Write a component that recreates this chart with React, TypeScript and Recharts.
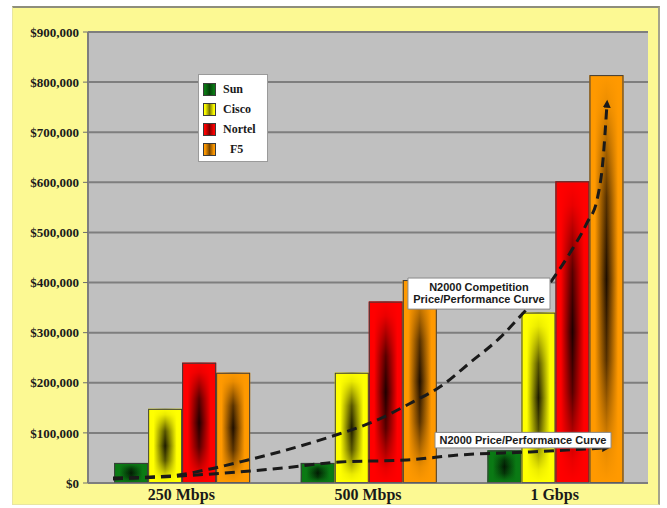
import React from 'react';
import {
  ComposedChart,
  Bar,
  Line,
  XAxis,
  YAxis,
  CartesianGrid,
  ReferenceArea,
} from 'recharts';

// Throughput tiers and vendor prices (USD)
const categories = ['250 Mbps', '500 Mbps', '1 Gbps'];
const sunPrices = [40000, 40000, 65000];
const ciscoPrices = [148000, 220000, 340000];
const nortelPrices = [240000, 362000, 602000];
const f5Prices = [220000, 405000, 814000];

const yTicks = [0, 100000, 200000, 300000, 400000, 500000, 600000, 700000, 800000, 900000];

// Price/performance trend curves, x measured in category widths (0..3)
const competitionX = [0.134, 0.44, 0.654, 0.857, 1.045, 1.296, 1.527, 1.741, 1.886, 2.046, 2.207, 2.314, 2.486, 2.582, 2.673, 2.727, 2.759, 2.78];
const competitionV = [10000, 14000, 28000, 46000, 64000, 92000, 122000, 162000, 192000, 240000, 290000, 332000, 405000, 459000, 519000, 565000, 645000, 755000];
const n2000X = [0.134, 0.493, 0.868, 1.045, 1.35, 1.709, 1.993, 2.368, 2.77];
const n2000V = [8000, 14000, 24000, 30000, 42000, 46000, 56000, 62000, 70000];

const series = [
  { key: 'sun', name: 'Sun', color: '#0a7a14', dark: '#021a03' },
  { key: 'cisco', name: 'Cisco', color: '#ffff00', dark: '#1c1a00' },
  { key: 'nortel', name: 'Nortel', color: '#ff0000', dark: '#1e0000' },
  { key: 'f5', name: 'F5', color: '#ff9900', dark: '#1e0e00' },
];

const rows = categories.map((category, i) => ({
  category,
  sun: sunPrices[i],
  cisco: ciscoPrices[i],
  nortel: nortelPrices[i],
  f5: f5Prices[i],
}));

const competitionCurve = competitionX.map((x, i) => ({ x, v: competitionV[i] }));
const n2000Curve = n2000X.map((x, i) => ({ x, v: n2000V[i] }));

const money = (v: number) => '$' + v.toLocaleString('en-US');

function GradientBar(props: any) {
  const { x, y, width, height, tone } = props;
  if (!height || height <= 0) return null;
  return (
    <g>
      <rect x={x} y={y} width={width} height={height} fill={`url(#h-${tone})`} />
      <rect x={x} y={y} width={width} height={height} fill={`url(#v-${tone})`} />
      <rect
        x={x + 0.5}
        y={y + 0.5}
        width={Math.max(width - 1, 0)}
        height={Math.max(height - 1, 0)}
        fill="none"
        stroke="#3c3c3c"
        strokeWidth={1}
      />
    </g>
  );
}

function Callout(props: any) {
  const { viewBox, lines } = props;
  if (!viewBox) return null;
  const cx = viewBox.x + viewBox.width / 2;
  const lineH = 12;
  const top = viewBox.y + viewBox.height / 2 - (lines.length * lineH) / 2;
  return (
    <text
      x={cx}
      textAnchor="middle"
      fontFamily="'Liberation Sans', Arial, sans-serif"
      fontWeight="bold"
      fontSize={11}
      fill="#1a1a1a"
    >
      {lines.map((l: string, i: number) => (
        <tspan key={i} x={cx} y={top + lineH * i + 9.5}>
          {l}
        </tspan>
      ))}
    </text>
  );
}

function LegendBox() {
  return (
    <div
      style={{
        position: 'absolute',
        left: 198,
        top: 74,
        width: 70,
        height: 88,
        background: '#ffffff',
        border: '1px solid #9a9a9a',
        boxSizing: 'border-box',
        padding: '4px 0 0 4px',
        fontFamily: "'Liberation Serif', 'Times New Roman', serif",
        fontWeight: 'bold',
        fontSize: 12,
        color: '#1a1a1a',
      }}
    >
      {series.map((s) => (
        <div key={s.key} style={{ display: 'flex', alignItems: 'center', height: 20 }}>
          <svg width={13} height={13} style={{ display: 'block' }}>
            <rect x={0} y={0} width={13} height={13} fill={s.color} />
            <rect x={0} y={0} width={13} height={13} fill={`url(#h-${s.key})`} opacity={0.6} />
            <rect x={0.5} y={0.5} width={12} height={12} fill="none" stroke="#3c3c3c" />
          </svg>
          <span style={{ marginLeft: 7, paddingLeft: s.key === 'f5' ? 7 : 0 }}>{s.name}</span>
        </div>
      ))}
    </div>
  );
}

export default function App() {
  return (
    <div
      style={{
        position: 'absolute',
        left: 0,
        top: 0,
        width: 667,
        height: 508,
        background: '#ffffff',
        overflow: 'hidden',
      }}
    >
      <div
        style={{
          position: 'absolute',
          left: 12,
          top: 6,
          width: 648,
          height: 499,
          background: '#fcf993',
          borderTop: '2px solid #8e8e7c',
          borderRight: '2px solid #a4a48c',
          borderLeft: '1px solid #e8e6a0',
          borderBottom: '1px solid #e8e6a0',
          boxSizing: 'border-box',
        }}
      />
      <svg width={0} height={0} style={{ position: 'absolute' }}>
        <defs>
          {series.map((s) => (
            <linearGradient key={'h' + s.key} id={`h-${s.key}`} x1="0" y1="0" x2="1" y2="0">
              <stop offset="0" stopColor={s.color} />
              <stop offset="0.16" stopColor={s.color} />
              <stop offset="0.5" stopColor={s.dark} />
              <stop offset="0.84" stopColor={s.color} />
              <stop offset="1" stopColor={s.color} />
            </linearGradient>
          ))}
          {series.map((s) => (
            <linearGradient key={'v' + s.key} id={`v-${s.key}`} x1="0" y1="0" x2="0" y2="1">
              <stop offset="0" stopColor={s.color} stopOpacity={1} />
              <stop offset="0.08" stopColor={s.color} stopOpacity={0.9} />
              <stop offset="0.3" stopColor={s.color} stopOpacity={0.25} />
              <stop offset="0.5" stopColor={s.color} stopOpacity={0} />
              <stop offset="0.7" stopColor={s.color} stopOpacity={0.25} />
              <stop offset="0.92" stopColor={s.color} stopOpacity={0.9} />
              <stop offset="1" stopColor={s.color} stopOpacity={1} />
            </linearGradient>
          ))}
          <marker
            id="curve-arrow"
            markerUnits="userSpaceOnUse"
            markerWidth={10}
            markerHeight={10}
            refX={3}
            refY={4}
            orient="auto"
          >
            <path d="M0,0 L8,4 L0,8 Z" fill="#1a1a1a" />
          </marker>
        </defs>
      </svg>
      <div style={{ position: 'absolute', left: 0, top: 0 }}>
        <ComposedChart
          width={667}
          height={508}
          data={rows}
          margin={{ top: 32, right: 19, bottom: 0, left: 12 }}
          barCategoryGap="14%"
          barGap={0}
        >
          <CartesianGrid
            vertical={false}
            fill="#c0c0c0"
            fillOpacity={1}
            stroke="#7e7e7e"
            strokeWidth={2}
          />
          <XAxis
            dataKey="category"
            height={25}
            tickSize={4}
            tickLine={false}
            axisLine={{ stroke: '#7e7e7e', strokeWidth: 1 }}
            tick={{
              fill: '#1a1a1a',
              fontSize: 16,
              fontWeight: 'bold',
              fontFamily: "'Liberation Serif', 'Times New Roman', serif",
            }}
          />
          <XAxis xAxisId="curve" type="number" dataKey="x" domain={[0, 3]} hide allowDataOverflow />
          <YAxis
            width={76}
            domain={[0, 900000]}
            ticks={yTicks}
            interval={0}
            tickFormatter={money}
            tickSize={5}
            tickMargin={4}
            tickLine={{ stroke: '#6e6e6e' }}
            axisLine={{ stroke: '#7e7e7e', strokeWidth: 2 }}
            tick={{
              fill: '#1a1a1a',
              fontSize: 13,
              fontWeight: 'bold',
              fontFamily: "'Liberation Serif', 'Times New Roman', serif",
            }}
          />
          {series.map((s) => (
            <Bar
              key={s.key}
              dataKey={s.key}
              name={s.name}
              fill={s.color}
              isAnimationActive={false}
              shape={(p: any) => <GradientBar {...p} tone={s.key} />}
            />
          ))}
          <Line
            xAxisId="curve"
            data={competitionCurve}
            dataKey="v"
            type="monotone"
            stroke="#1a1a1a"
            strokeWidth={3}
            strokeDasharray="10 6"
            dot={false}
            activeDot={false}
            markerEnd="url(#curve-arrow)"
            isAnimationActive={false}
          />
          <Line
            xAxisId="curve"
            data={n2000Curve}
            dataKey="v"
            type="monotone"
            stroke="#1a1a1a"
            strokeWidth={3}
            strokeDasharray="10 6"
            dot={false}
            activeDot={false}
            markerEnd="url(#curve-arrow)"
            isAnimationActive={false}
          />
          <ReferenceArea
            xAxisId="curve"
            x1={1.714}
            x2={2.475}
            y1={347000}
            y2={409000}
            fill="#ffffff"
            fillOpacity={1}
            stroke="#8a8a8a"
            strokeWidth={1}
            zIndex={2500}
            label={<Callout lines={['N2000 Competition', 'Price/Performance Curve']} />}
          />
          <ReferenceArea
            xAxisId="curve"
            x1={1.859}
            x2={2.802}
            y1={70000}
            y2={101000}
            fill="#ffffff"
            fillOpacity={1}
            stroke="#8a8a8a"
            strokeWidth={1}
            zIndex={2500}
            label={<Callout lines={['N2000 Price/Performance Curve']} />}
          />
        </ComposedChart>
      </div>
      <LegendBox />
    </div>
  );
}
